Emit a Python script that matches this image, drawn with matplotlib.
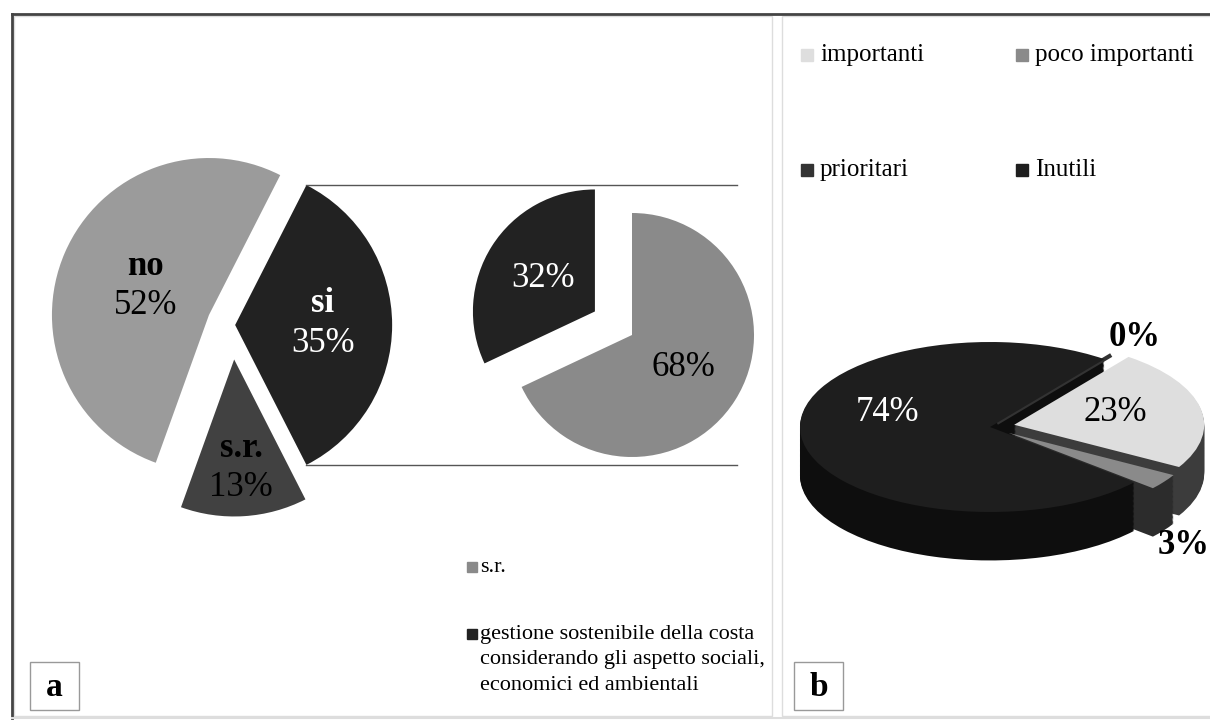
import matplotlib.pyplot as plt
from matplotlib.patches import Rectangle
import numpy as np

plt.rcParams['font.family'] = ['Liberation Serif', 'DejaVu Serif']

# panel a: main pie (si / no / s.r.)
main_labels = ['si', 'no', 's.r.']
main_values = [35, 52, 13]
main_colors = ['#222222', '#9b9b9b', '#414141']

# panel a: breakdown of "si"
sub_values = [32, 68]
sub_colors = ['#222222', '#8a8a8a']
legend_a = ['s.r.', 'gestione sostenibile della costa\nconsiderando gli aspetto sociali,\neconomici ed ambientali']
legend_a_colors = ['#8a8a8a', '#222222']

# panel b
cats_b = ['importanti', 'poco importanti', 'prioritari', 'Inutili']
vals_b = [23, 3, 0, 74]
top_colors_b = ['#dedede', '#8a8a8a', '#333333', '#1e1e1e']
side_colors_b = ['#3c3c3c', '#2c2c2c', '#222222', '#0e0e0e']

W, H = 1210, 722


def Y(y):
    # pixel from top -> data y
    return H - y


fig = plt.figure(figsize=(12.1, 7.22), dpi=100)
ax = fig.add_axes([0, 0, 1, 1])

# ---- main pie (explode is in data units, so scale by radius)
r1 = 157
wedges, _ = ax.pie(main_values, colors=main_colors, startangle=-63,
                   radius=r1, center=(232, Y(325)),
                   explode=[e * r1 for e in (0.02, 0.16, 0.22)],
                   wedgeprops=dict(linewidth=0))
label_dist = [0.56, 0.44, 0.7]
txt_col = ['white', 'black', 'black']
for w, lab, v, d, c in zip(wedges, main_labels, main_values, label_dist, txt_col):
    mid = np.radians((w.theta1 + w.theta2) / 2)
    x = w.center[0] + d * r1 * np.cos(mid)
    y = w.center[1] + d * r1 * np.sin(mid)
    ax.text(x, y + 21, lab, ha='center', va='center', fontsize=25,
            fontweight='bold', color=c)
    ax.text(x, y - 18, f'{v}%', ha='center', va='center', fontsize=25, color=c)

# connector lines from the "si" slice
si = wedges[0]
for ang in (si.theta2, si.theta1):
    a = np.radians(ang)
    x0 = si.center[0] + r1 * np.cos(a)
    y0 = si.center[1] + r1 * np.sin(a)
    ax.plot([x0, 737], [y0, y0], color='#555555', lw=1)

# ---- secondary pie
r2 = 122
sw, _, st = ax.pie(sub_values, colors=sub_colors, startangle=90,
                   radius=r2, center=(632, Y(335)), explode=[0.36 * r2, 0],
                   autopct='%d%%', pctdistance=0.5,
                   wedgeprops=dict(linewidth=0),
                   textprops=dict(fontsize=25))
st[0].set_color('white')

# ---- legend a
for i, (lab, c) in enumerate(zip(legend_a, legend_a_colors)):
    yy = [567, 634][i]
    ax.add_patch(Rectangle((467, Y(yy) - 5), 10, 10, color=c))
    ax.text(480, Y(yy) + 9, lab, ha='left', va='top', fontsize=16,
            linespacing=1.45)

# ---- legend b
pos_b = [(801, 55), (1016, 55), (801, 170), (1016, 170)]
for (px, py), lab, c in zip(pos_b, cats_b, top_colors_b):
    ax.add_patch(Rectangle((px, Y(py) - 6), 12, 12, color=c))
    ax.text(px + 19, Y(py), lab, ha='left', va='center', fontsize=18)

# ---- frames
ax.add_patch(Rectangle((14, Y(716)), 758, 700, fill=False, ec='#dddddd', lw=1))
ax.add_patch(Rectangle((782, Y(716)), 440, 700, fill=False, ec='#dddddd', lw=1))
ax.plot([12, W], [Y(14), Y(14)], color='#444444', lw=2)
ax.plot([12, 12], [Y(14), Y(718)], color='#444444', lw=2)
ax.plot([12, W], [Y(718), Y(718)], color='#dddddd', lw=1.5)
for (bx, by), letter in zip([(30, 710), (794, 710)], ['a', 'b']):
    ax.add_patch(Rectangle((bx, Y(by)), 49, 48, fill=False, ec='#999999', lw=1))
    ax.text(bx + 24.5, Y(by) + 22, letter, ha='center', va='center',
            fontsize=24, fontweight='bold')

ax.set_xlim(0, W)
ax.set_ylim(0, H)
ax.set_aspect('auto')
ax.axis('off')

# ---- panel b: pseudo-3D pie
order = [2, 0, 1, 3]
vals = [vals_b[i] for i in order]
explode_b = [0.06, 0.13, 0.12, 0]
ax_b = fig.add_axes([790 / W, 1 - 600 / H, 420 / W, 280 / H])
ax_b.patch.set_alpha(0)
depth = 0.57
for off in np.linspace(depth, 0.0, 40)[:-1]:
    ax_b.pie(vals, colors=[side_colors_b[i] for i in order], startangle=53,
             counterclock=False, explode=explode_b, center=(0, -off),
             wedgeprops=dict(linewidth=0))
wb, _ = ax_b.pie(vals, colors=[top_colors_b[i] for i in order], startangle=53,
                 counterclock=False, explode=explode_b,
                 wedgeprops=dict(linewidth=0))
wb[0].set_edgecolor('#333333')
wb[0].set_linewidth(3)
ax_b.set_xlim(-200 / 190, 220 / 190)
ax_b.set_ylim(-173 / 85, 107 / 85)
ax_b.set_aspect('auto')
ax_b.axis('off')

lab_pos_b = {'Inutili': (-0.54, 0.17), 'importanti': (0.66, 0.17),
             'prioritari': (0.76, 1.05), 'poco importanti': (1.02, -1.39)}
for i in order:
    c = 'white' if cats_b[i] == 'Inutili' else 'black'
    fw = 'bold' if vals_b[i] < 5 else 'normal'
    ax_b.text(*lab_pos_b[cats_b[i]], f'{vals_b[i]}%', ha='center', va='center',
              fontsize=25, color=c, fontweight=fw)

fig.savefig('out.png', dpi=100)
